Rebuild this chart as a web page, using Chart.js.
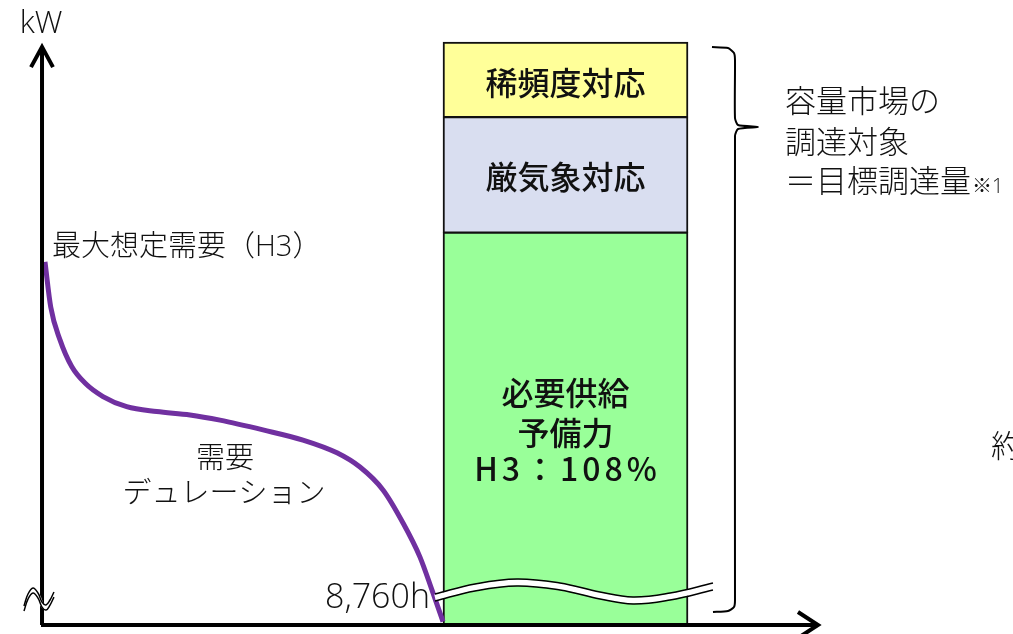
<!DOCTYPE html>
<html lang="ja">
<head>
<meta charset="UTF-8">
<title>容量市場の調達対象</title>
<script src="https://cdn.jsdelivr.net/npm/chart.js@4.4.2/dist/chart.umd.min.js"></script>
<style>
    html, body { margin: 0; padding: 0; background: #fff; }
    .wrap { width: 1013px; height: 634px; position: relative; }
</style>
</head>
<body>
<div class="wrap"><canvas id="chart"></canvas></div>
<script>
    // demand duration curve: hours of the year (sorted) vs demand in % of H3 peak
    const curveHours  = [45, 170, 374, 630, 921, 1315, 1834, 2491, 3220, 3877, 4818, 5694, 6438, 6942, 7446, 7884, 8256, 8519, 8760];
    const curveDemand = [100.2, 88.2, 79.4, 72.3, 67.9, 64.3, 61.6, 60.3, 59.4, 58.0, 55.4, 52.7, 49.3, 45.5, 39.4, 30.6, 21.5, 12.7, 4.3];

    // stacked procurement bar, % of H3 (bottom is cut by the axis break)
    const barNames = ['必要供給予備力', '厳気象対応', '稀頻度対応'];
    const barFrom  = [3.4, 108, 138.8];
    const barTo    = [108, 138.8, 158.8];
    const barHour  = 11442;

    // drawing of axes, arrows, breaks and bracket (same units as the data)
    const yAxisPts   = [[-20, 3.4], [-20, 157]];
    const yArrowPts  = [[-261, 152.1], [-20, 157.5], [220, 152.1]];
    const xAxisPts   = [[-42, 3.4], [16960, 3.4]];
    const xArrowPts  = [[16532, 6.86], [16970, 3.4], [16532, -0.07]];
    const yBreakPts  = [[-415, 8.46], [-327, 11.66], [-218, 13.26], [-108, 11.93], [-20, 9.53], [67, 8.73], [155, 10.06], [242, 12.2]];
    const barBreakPts = [[8584, 11.66], [9460, 14.33], [10380, 15.66], [11321, 14.59], [12197, 12.2], [12920, 10.86], [13730, 11.93], [14671, 14.59]];
    const bracketPts = [[14649, 157.47], [14999, 157.2], [15131, 155.87], [15153, 154.0], [15153, 138.55], [15219, 136.68],
                        [15657, 136.14], [15219, 135.61], [15153, 133.75], [15153, 10.06], [15131, 8.2], [14999, 7.13], [14671, 6.86]];

    function pts(list, dy) {
        return list.map(p => ({ x: p[0], y: p[1] + (dy || 0) }));
    }
    function decor(data, color, width, order, tension) {
        return {
            type: 'line',
            data: data,
            borderColor: color,
            borderWidth: width,
            pointRadius: 0,
            fill: false,
            tension: tension || 0,
            borderJoinStyle: 'miter',
            order: order,
            clip: false
        };
    }

    const LIGHT = '300 {s}px "Open Sans", "Noto Sans CJK JP"';
    const MID = '500 {s}px "Noto Sans CJK JP"';
    const f = (tpl, s) => tpl.replace('{s}', s);

    const notes = [
        { t: 'kW', x: -42, y: 163.6, font: f(LIGHT, 31), align: 'center' },
        { t: '最大想定需要（H3）', x: 198, y: 104.0, font: f(LIGHT, 29), align: 'left' },
        { t: '需要', x: 3986, y: 47.4, font: f(LIGHT, 29), align: 'center' },
        { t: 'デュレーション', x: 3964, y: 38.1, font: f(LIGHT, 29), align: 'center' },
        { t: '8,760h', x: 8475, y: 10.5, font: f(LIGHT, 34), align: 'right' },
        { t: '稀頻度対応', x: barHour, y: 147.8, font: f(MID, 32), align: 'center' },
        { t: '厳気象対応', x: barHour, y: 122.9, font: f(MID, 32), align: 'center' },
        { t: '必要供給', x: barHour, y: 65.2, font: f(MID, 32), align: 'center' },
        { t: '予備力', x: barHour, y: 54.7, font: f(MID, 32), align: 'center' },
        { t: 'H3：108%', x: barHour + 44, y: 44.9, font: f(MID, 32), align: 'center', ls: '4px' },
        { t: '容量市場の', x: 16248, y: 142.4, font: f(LIGHT, 31), align: 'left' },
        { t: '調達対象', x: 16248, y: 131.7, font: f(LIGHT, 31), align: 'left' },
        { t: '＝目標調達量', x: 16248, y: 121.1, font: f(LIGHT, 31), align: 'left',
          sub: '※1', subFont: f(LIGHT, 20) },
        { t: '約', x: 20758, y: 50.6, font: f(LIGHT, 31), align: 'left' }
    ];

    const notePlugin = {
        id: 'notes',
        afterDatasetsDraw(chart) {
            const ctx = chart.ctx;
            const xs = chart.scales.x, ys = chart.scales.y;
            ctx.save();
            ctx.fillStyle = '#111';
            ctx.textBaseline = 'middle';
            notes.forEach(n => {
                const px = xs.getPixelForValue(n.x);
                const py = ys.getPixelForValue(n.y);
                ctx.font = n.font;
                ctx.textAlign = n.align;
                ctx.letterSpacing = n.ls || '0px';
                ctx.fillText(n.t, px, py);
                if (n.sub) {
                    const w = ctx.measureText(n.t).width;
                    ctx.font = n.subFont;
                    ctx.textAlign = 'left';
                    ctx.fillText(n.sub, px + w + 1, py + 4);
                }
            });
            ctx.restore();
        }
    };

    const barBorders = [
        { top: 1.5, left: 2, right: 2, bottom: 0 },
        { top: 1.5, left: 2, right: 2, bottom: 1.5 },
        { top: 2, left: 2, right: 2, bottom: 1.5 }
    ];
    const barFills = ['#99FF99', '#D9DEF0', '#FFFF99'];

    const barSets = barNames.map((name, i) => ({
        type: 'bar',
        label: name,
        data: [{ x: barHour, y: [barFrom[i], barTo[i]] }],
        backgroundColor: barFills[i],
        borderColor: '#111',
        borderWidth: barBorders[i],
        borderSkipped: false,
        barThickness: 245,
        order: 10
    }));

    const datasets = barSets.concat([
        {
            type: 'line',
            label: '需要デュレーション',
            data: curveHours.map((h, i) => ({ x: h, y: curveDemand[i] })),
            borderColor: '#7030A0',
            borderWidth: 5,
            pointRadius: 0,
            fill: false,
            cubicInterpolationMode: 'monotone',
            order: 6,
            clip: false
        },
        decor(pts(yAxisPts), '#000', 4, 5),
        decor(pts(yArrowPts), '#000', 4, 5),
        decor(pts(xAxisPts), '#000', 4, 5),
        decor(pts(xArrowPts), '#000', 4, 5),
        decor(pts(yBreakPts, -0.7), '#fff', 4, 4, 0.4),
        decor(pts(yBreakPts), '#000', 1.5, 3, 0.4),
        decor(pts(yBreakPts, -1.35), '#000', 1.5, 3, 0.4),
        decor(pts(barBreakPts, -0.93), '#fff', 6, 4, 0.4),
        decor(pts(barBreakPts), '#000', 1.5, 3, 0.4),
        decor(pts(barBreakPts, -1.87), '#000', 1.5, 3, 0.4),
        decor(pts(bracketPts), '#000', 2, 3, 0.2)
    ]);

    new Chart(document.getElementById('chart').getContext('2d'), {
        type: 'bar',
        data: { datasets: datasets },
        options: {
            responsive: true,
            maintainAspectRatio: false,
            animation: false,
            layout: { padding: 0 },
            plugins: {
                legend: { display: false },
                tooltip: { enabled: false }
            },
            scales: {
                x: { type: 'linear', min: -940, max: 21240, offset: false, stacked: true, display: false },
                y: { type: 'linear', min: 1, max: 170, stacked: false, display: false }
            }
        },
        plugins: [notePlugin]
    });
</script>
</body>
</html>
